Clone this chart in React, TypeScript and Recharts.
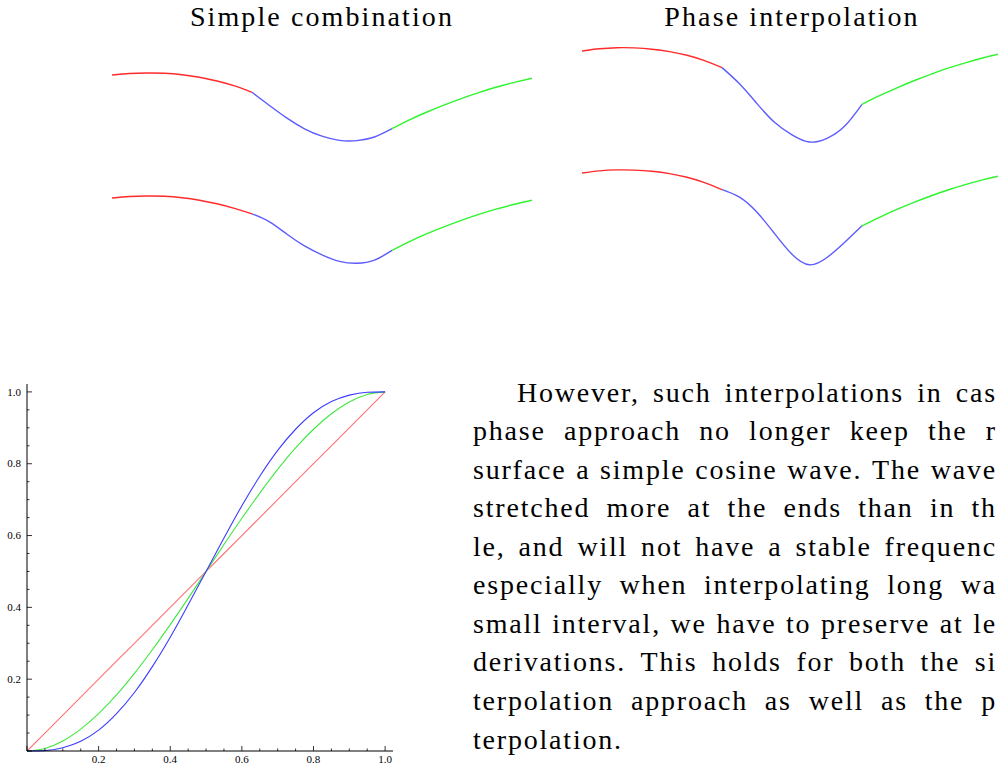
import { LineChart, Line, XAxis, YAxis } from "recharts";

// positions inside each wave segment (red | blue | green)
const segmentSteps = [0, 0.125, 0.25, 0.375, 0.5, 0.625, 0.75, 0.875, 1];

// Simple combination, upper curve
const simpleARed = [70, 71.5, 72, 71.7, 70.3, 67.8, 64, 59.1, 52.7];
const simpleABlue = [52.7, 39.5, 26.8, 16.2, 8.8, 4.6, 4.4, 8, 16.3];
const simpleAGreen = [16.3, 25.1, 33, 40.1, 46.7, 52.6, 58, 62.6, 66.7];
// Simple combination, lower curve
const simpleBRed = [70, 71.5, 72, 71.7, 70.3, 67.8, 64.2, 59.6, 54.2];
const simpleBBlue = [54.2, 46.2, 33.8, 22.2, 13.2, 6.6, 4.7, 7.9, 17.6];
const simpleBGreen = [17.6, 26.4, 34.3, 41.4, 47.9, 53.8, 59.1, 63.7, 67.7];
// Phase interpolation, upper curve
const phaseARed = [70, 72.2, 73.3, 73.1, 71.8, 69.4, 65.7, 60.4, 53.4];
const phaseABlue = [53.4, 37.2, 17.4, -1.3, -13.8, -21, -17.3, -5.3, 16.7];
const phaseAGreen = [16.7, 25.3, 33.2, 40.5, 47.2, 53.3, 58.7, 63.5, 67.7];
// Phase interpolation, lower curve
const phaseBRed = [70, 72.1, 73.1, 72.9, 71.7, 69.4, 65.7, 60.4, 53.4];
const phaseBBlue = [53.4, 45.8, 30.7, 9.5, -11.3, -21.8, -14.5, 0.5, 17.2];
const phaseBGreen = [17.2, 25.7, 33.6, 40.8, 47.5, 53.5, 58.8, 63.6, 67.7];

// blending functions plot
const xValues = [0, 0.05, 0.1, 0.15, 0.2, 0.25, 0.3, 0.35, 0.4, 0.45, 0.5, 0.55, 0.6, 0.65, 0.7, 0.75, 0.8, 0.85, 0.9, 0.95, 1];
const linearValues = [0, 0.05, 0.1, 0.15, 0.2, 0.25, 0.3, 0.35, 0.4, 0.45, 0.5, 0.55, 0.6, 0.65, 0.7, 0.75, 0.8, 0.85, 0.9, 0.95, 1];
const cubicValues = [0, 0.007, 0.028, 0.061, 0.104, 0.156, 0.216, 0.282, 0.352, 0.425, 0.5, 0.575, 0.648, 0.718, 0.784, 0.844, 0.896, 0.939, 0.972, 0.993, 1];
const quinticValues = [0, 0.001, 0.009, 0.027, 0.058, 0.104, 0.163, 0.235, 0.317, 0.407, 0.5, 0.593, 0.683, 0.765, 0.837, 0.896, 0.942, 0.973, 0.991, 0.999, 1];
const axisTicks = [0, 0.05, 0.1, 0.15, 0.2, 0.25, 0.3, 0.35, 0.4, 0.45, 0.5, 0.55, 0.6, 0.65, 0.7, 0.75, 0.8, 0.85, 0.9, 0.95, 1];

const titles = ["Simple combination", "Phase interpolation"];
const paragraph = [
  "However, such interpolations in cas",
  "phase approach no longer keep the r",
  "surface a simple cosine wave. The wave",
  "stretched more at the ends than in th",
  "le, and will not have a stable frequenc",
  "especially when interpolating long wa",
  "small interval, we have to preserve at le",
  "derivations. This holds for both the si",
  "terpolation approach as well as the p",
  "terpolation.",
];

const FONT = '"Liberation Serif", "Times New Roman", serif';

const blendData = xValues.map((x, i) => ({
  x,
  linear: linearValues[i],
  cubic: cubicValues[i],
  quintic: quinticValues[i],
}));

const segment = (vals: number[], offset: number) =>
  vals.map((v, i) => ({ t: offset + segmentSteps[i], v }));

const WavePlot = ({ left, top, red, blue, green }: any) => (
  <div style={{ position: "absolute", left, top }}>
    <LineChart width={420} height={110} margin={{ top: 0, right: 0, bottom: 0, left: 0 }}>
      <XAxis type="number" dataKey="t" domain={[0, 3]} hide />
      <YAxis type="number" domain={[-30, 80]} hide />
      <Line data={segment(red, 0)} dataKey="v" type="natural" stroke="#ff2a2a" strokeWidth={1.4} dot={false} isAnimationActive={false} />
      <Line data={segment(blue, 1)} dataKey="v" type="natural" stroke="#5c5cff" strokeWidth={1.4} dot={false} isAnimationActive={false} />
      <Line data={segment(green, 2)} dataKey="v" type="natural" stroke="#2cf52c" strokeWidth={1.4} dot={false} isAnimationActive={false} />
    </LineChart>
  </div>
);

const isMajor = (v: number) => Math.abs(v * 5 - Math.round(v * 5)) < 1e-6;

const XTick = (props: any) => {
  const { x, y, payload } = props;
  const v = payload.value;
  const major = isMajor(v);
  return (
    <g>
      <line x1={x} x2={x} y1={y} y2={y - (major ? 5 : 2.5)} stroke="#000" strokeWidth={0.8} />
      {major && v > 0 && (
        <text x={x} y={y + 12.3} textAnchor="middle" fontSize={11} fontFamily={FONT} fill="#000">
          {v.toFixed(1)}
        </text>
      )}
    </g>
  );
};

const YTick = (props: any) => {
  const { x, y, payload } = props;
  const v = payload.value;
  const major = isMajor(v);
  return (
    <g>
      <line x1={x} x2={x + (major ? 5 : 2.5)} y1={y} y2={y} stroke="#000" strokeWidth={0.8} />
      {major && v > 0 && (
        <text x={x - 6} y={y + 3.7} textAnchor="end" fontSize={11} fontFamily={FONT} fill="#000">
          {v.toFixed(1)}
        </text>
      )}
    </g>
  );
};

export default function App() {
  return (
    <div
      style={{
        position: "absolute",
        left: 0,
        top: 0,
        width: 998,
        height: 769,
        overflow: "hidden",
        background: "#fff",
        fontFamily: FONT,
        color: "#000",
      }}
    >
      {titles.map((t, i) => (
        <div
          key={t}
          style={{
            position: "absolute",
            left: (i === 0 ? 322 : 792) - 200,
            top: 2,
            width: 400,
            textAlign: "center",
            fontSize: 28,
            lineHeight: "30px",
            letterSpacing: 2.1,
          }}
        >
          {t}
        </div>
      ))}

      <WavePlot left={112} top={65} red={simpleARed} blue={simpleABlue} green={simpleAGreen} />
      <WavePlot left={112} top={188} red={simpleBRed} blue={simpleBBlue} green={simpleBGreen} />
      <WavePlot left={582} top={41} red={phaseARed} blue={phaseABlue} green={phaseAGreen} />
      <WavePlot left={582} top={163} red={phaseBRed} blue={phaseBBlue} green={phaseBGreen} />

      <div style={{ position: "absolute", left: 0, top: 370 }}>
        <LineChart width={400} height={399} data={blendData} margin={{ top: 14, right: 7, bottom: 0, left: 0 }}>
          <XAxis
            type="number"
            dataKey="x"
            domain={[0, 1.022]}
            ticks={axisTicks}
            interval={0}
            tickSize={0}
            tickMargin={0}
            tickLine={false}
            tick={(p: any) => <XTick {...p} />}
            height={18}
            axisLine={{ stroke: "#000", strokeWidth: 1 }}
          />
          <YAxis
            type="number"
            domain={[0, 1.022]}
            ticks={axisTicks}
            interval={0}
            tickSize={0}
            tickMargin={0}
            tickLine={false}
            tick={(p: any) => <YTick {...p} />}
            width={27}
            axisLine={{ stroke: "#000", strokeWidth: 1 }}
          />
          <Line dataKey="linear" type="linear" stroke="#ff7373" strokeWidth={1.1} dot={false} isAnimationActive={false} />
          <Line dataKey="cubic" type="monotone" stroke="#3ee83e" strokeWidth={1.1} dot={false} isAnimationActive={false} />
          <Line dataKey="quintic" type="monotone" stroke="#3c3cff" strokeWidth={1.1} dot={false} isAnimationActive={false} />
        </LineChart>
      </div>

      {paragraph.map((line, i) => {
        const left = i === 0 ? 517 : 473;
        const last = i === paragraph.length - 1;
        return (
          <div
            key={i}
            style={{
              position: "absolute",
              left,
              top: 373.5 + i * 38.56,
              width: 997 - left,
              height: 38,
              fontSize: 28,
              lineHeight: "38px",
              letterSpacing: 1.8,
              display: "flex",
              justifyContent: last ? "flex-start" : "space-between",
              gap: last ? 9 : 0,
            }}
          >
            {line.split(" ").map((w, j) => (
              <span key={j} style={{ whiteSpace: "nowrap" }}>
                {w}
              </span>
            ))}
          </div>
        );
      })}
    </div>
  );
}
